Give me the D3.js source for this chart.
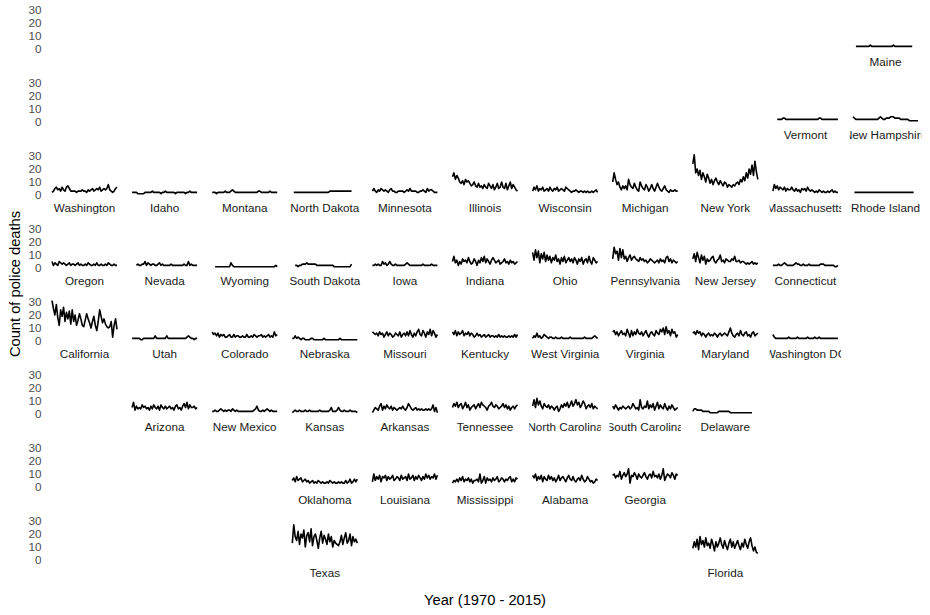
<!DOCTYPE html>
<html>
<head>
<meta charset="utf-8">
<script src="https://cdn.jsdelivr.net/npm/d3@7"></script>
<style>
  body { margin: 0; background: #fff; }
  text { font-family: "Liberation Sans", Arial, Helvetica, sans-serif; }
</style>
</head>
<body>
<svg id="chart"></svg>
<script>
// police deaths per year by state, 1970 - 2015
const yTicks = [0, 10, 20, 30]

const maine = [2,2,2,2,2,2,2,2,2,2, 3,2,2,2,2,2,2,2,2,2, 2,2,2,2,2,2,3,2,2,2, 2,2,2,2,2,2,2,2,2,2]
const vermont = [2,2,2,2,3,3,2,2,2,2, 2,2,2,2,2,2,2,2,2,2, 2,2,2,2,2,2,2,2,2,3, 3,2,2,2,2,2,2,2,2,2, 2,2,2]
const newHampshire = [4,3,2,2,2,2,2,2,2,2, 2,2,2,2,2,2,2,2,3,4, 3,2,2,3,3,3,4,4,4,3, 3,3,3,2,2,2,2,2,2,1, 1,1,1,1,1,1]
const washington = [2,3,5,6,4,5,3,6,4,3, 6,7,5,3,3,3,3,2,3,3, 3,4,3,3,2,4,3,4,5,3, 4,5,4,6,3,4,5,4,5,8, 4,3,2,3,5,6]
const idaho = [2,2,2,2,1,1,1,1,1,2, 2,2,2,2,3,2,2,2,2,2, 1,2,2,3,2,2,2,2,2,2, 1,2,2,2,2,2,2,1,2,2, 3,2,2,2,2,2]
const montana = [2,2,2,1,2,2,2,2,2,3, 2,2,2,3,4,3,2,2,2,2, 2,2,2,2,2,2,2,2,2,2, 2,2,3,3,2,2,2,2,2,2, 3,2,2,2,2,2]
const northDakota = [2,2,2,2,2,2,2,2,2,2, 2,2,2,2,2,2,2,2,2,2, 2,2,2,2,2,3,3,3,3,3, 3,3,3,3,3,3,3,3,3,3, 3]
const minnesota = [3,5,3,2,4,3,5,4,3,4, 3,2,4,5,3,3,2,2,3,3, 3,3,2,3,4,3,5,3,3,3, 3,2,2,3,3,4,3,2,5,3, 4,4,3,2,2,2]
const illinois = [14,17,12,15,13,10,9,11,8,12, 10,11,9,7,8,10,7,6,9,6, 7,5,8,6,5,9,7,5,8,4, 6,9,5,6,10,6,5,9,4,7, 10,5,8,6,4,3]
const wisconsin = [3,6,4,7,3,5,4,6,3,4, 5,3,6,4,3,5,4,6,3,4, 5,4,3,6,5,4,3,2,3,3, 4,3,2,3,3,2,3,2,3,2, 2,3,2,3,4,2]
const michigan = [10,17,12,8,10,6,4,7,5,7, 4,12,8,6,5,9,6,4,3,10, 7,5,4,8,6,3,5,8,5,3, 6,9,6,4,3,5,7,4,3,2, 4,3,3,4,3,3]
const newYork = [24,31,17,20,15,19,12,17,14,10, 16,13,9,12,8,11,13,10,8,11, 9,7,10,9,6,8,7,6,8,7, 9,10,8,12,10,14,11,17,13,20, 16,23,15,26,18,12]
const massachusetts = [3,8,5,7,4,6,5,4,6,3, 5,4,4,6,4,3,5,3,4,2, 5,4,5,3,6,4,3,4,3,2, 3,2,4,3,2,3,2,2,3,2, 3,4,2,3,2,2]
const rhodeIsland = [2,2,2,2,2,2,2,2,2,2, 2,2,2,2,2,2,2,2,2,2, 2,2,2,2,2,2,2,2,2,2, 2,2,2,2,2,2,2,2,2,2, 2,2]
const oregon = [5,2,4,3,2,5,4,3,4,3, 2,3,4,2,3,3,2,3,4,2, 3,2,2,3,2,4,3,2,2,3, 2,4,2,2,3,2,2,3,2,4, 3,2,2,3,2,2]
const nevada = [2,3,2,2,3,3,5,2,4,3, 2,3,3,2,2,3,4,2,3,2, 2,2,2,2,3,2,2,2,2,2, 2,2,2,3,2,2,5,2,3,2, 2,2,2]
const wyoming = [1,1,1,1,1,1,1,1,1,1, 1,4,2,1,1,1,1,1,1,1, 1,1,1,1,1,1,1,1,1,1, 1,1,1,1,1,1,1,1,1,1, 1,1,2,1]
const southDakota = [2,2,1,2,2,3,3,3,4,3, 3,3,3,3,3,2,2,2,2,2, 2,2,2,2,2,2,2,1,1,1, 1,1,1,1,1,1,1,1,1,3]
const iowa = [2,2,3,2,3,2,2,5,3,4, 2,3,5,3,2,2,3,2,2,2, 2,2,2,3,4,3,2,2,2,2, 2,2,2,2,2,3,2,2,2,2, 2,3,2,2,2,2]
const indiana = [5,9,4,6,2,5,3,7,5,6, 4,8,5,3,4,7,5,2,6,4, 8,5,9,4,7,5,3,6,8,6, 4,5,6,3,4,5,7,4,5,3, 6,4,5,3,4,5]
const ohio = [12,6,14,8,13,4,11,7,12,5, 10,6,9,4,8,6,10,5,7,3, 8,5,9,4,6,8,5,7,4,8, 6,3,7,5,8,3,6,7,4,9, 5,3,8,6,4,5]
const pennsylvania = [7,16,11,13,6,15,8,14,7,9, 5,8,10,6,8,9,7,6,5,8, 6,7,5,6,4,5,7,6,5,4, 5,6,4,7,5,6,4,8,9,5, 7,4,6,5,4,5]
const newJersey = [7,11,5,12,8,4,10,6,9,3, 7,5,6,8,9,5,4,6,7,10, 5,6,4,7,6,5,5,7,6,9, 5,5,6,4,5,5,4,3,4,3, 4,5,3,4,3,4]
const connecticut = [2,2,2,2,3,2,2,3,4,3, 2,2,2,2,2,3,4,3,3,2, 2,3,2,2,2,3,2,2,2,2, 2,2,2,3,3,3,2,2,2,2, 2,2,2,1,1,2]
const california = [31,25,20,28,18,12,24,19,26,15, 22,17,23,13,24,15,20,12,16,21, 17,12,11,16,21,17,14,10,15,19, 12,8,15,24,19,14,17,13,11,10, 11,15,3,12,17,9]
const utah = [2,2,2,2,2,2,1,1,2,2, 2,2,2,2,2,2,4,2,2,2, 2,2,2,2,4,2,2,2,2,2, 2,2,2,2,2,2,2,2,3,4, 3,2,2,1,2,2]
const colorado = [7,5,6,4,6,3,5,4,5,3, 3,4,5,3,3,5,3,4,4,3, 3,4,3,3,5,3,3,4,3,5, 4,3,4,4,5,3,4,3,4,5, 3,4,3,7,4,5]
const nebraska = [2,2,4,2,3,2,1,2,2,1, 1,1,1,2,2,1,1,1,1,1, 1,1,2,1,1,1,1,1,1,1, 1,1,1,2,1,1,1,1,1,1, 1,1,1,1,1,1]
const missouri = [7,6,5,6,4,7,5,6,3,5, 7,4,6,5,3,4,6,5,4,7, 3,5,6,4,7,4,8,5,3,6, 4,7,9,5,4,8,6,3,7,5, 9,4,8,6,3,5]
const kentucky = [7,5,8,4,7,5,6,8,4,6, 5,7,4,6,5,3,4,6,4,5, 3,4,5,3,4,5,3,4,4,3, 4,3,5,3,4,3,4,3,3,4, 3,4,3,5,3,5]
const westVirginia = [2,4,3,6,3,4,2,3,5,4, 3,2,3,3,2,2,3,2,2,2, 3,2,2,2,2,2,3,2,2,2, 2,2,2,2,2,2,3,2,2,2, 2,2,3,4,3,2]
const virginia = [7,8,5,7,4,6,8,5,6,4, 9,6,3,8,4,7,5,9,6,5, 7,4,6,8,5,3,6,7,5,4, 8,6,5,9,7,10,5,11,6,8, 4,9,6,7,3,5]
const maryland = [6,7,5,8,6,7,4,6,5,3, 5,6,4,5,4,6,5,3,5,6, 4,5,6,5,4,7,10,6,4,3, 5,6,4,8,5,4,6,7,4,5, 3,6,7,4,5,6]
const washingtonDC = [5,3,2,2,2,2,2,2,2,2, 2,3,2,2,2,2,2,3,2,2, 2,2,2,2,3,2,2,2,2,3, 2,2,3,2,2,2,2,2,2,2, 2,2,2,2,2,2]
const arizona = [5,9,3,6,4,5,4,7,5,6, 4,5,3,6,4,7,5,4,6,3, 7,5,4,6,4,5,6,4,5,3, 6,7,4,5,3,6,8,5,9,4, 7,5,5,6,4,5]
const newMexico = [2,2,3,2,2,3,4,3,2,3, 2,3,3,2,4,3,2,3,2,2, 2,2,2,2,2,2,2,2,2,3, 4,6,3,2,2,3,2,3,4,3, 2,3,2,2,2,2]
const kansas = [1,2,3,2,2,3,2,2,2,3, 2,2,3,2,2,2,2,2,2,3, 2,2,2,2,2,2,3,5,2,2, 2,3,5,3,2,2,3,2,2,2, 3,2,2,2,2,1]
const arkansas = [1,3,5,4,3,6,8,3,6,4, 7,5,4,6,3,5,4,3,4,5, 4,6,4,3,5,8,6,4,3,4, 5,3,4,3,4,3,3,4,3,4, 3,4,7,2,5,1]
const tennessee = [5,8,6,9,5,7,8,4,6,9, 5,7,3,5,6,7,4,6,8,5, 9,7,6,5,3,6,7,9,6,5, 7,6,4,5,6,8,5,7,4,6, 3,5,6,4,6,7]
const northCarolina = [6,11,5,12,7,10,6,4,8,6, 5,7,4,6,5,3,5,6,2,4, 7,5,8,6,9,5,7,10,6,8, 11,7,9,5,7,10,8,4,6,7, 5,8,4,6,5,4]
const southCarolina = [6,4,7,5,3,5,4,6,5,4, 5,6,4,5,8,6,4,5,3,11, 5,4,6,5,10,4,7,5,8,3, 6,9,4,7,5,4,8,5,3,6, 4,7,5,3,4,5]
const delaware = [2,4,4,3,3,3,3,2,2,2, 2,2,1,1,1,1,1,1,2,2, 2,2,2,2,2,2,1,1,1,1, 1,1,1,1,1,1,1,1,1,1, 1,1]
const oklahoma = [5,7,4,8,5,6,7,4,5,6, 4,5,3,4,5,3,4,3,5,4, 3,4,3,3,4,3,5,4,3,4, 3,3,4,3,4,3,3,5,3,4, 6,3,4,6,4,6]
const louisiana = [4,10,5,8,6,9,4,8,7,9, 5,8,6,7,9,5,6,8,7,5, 9,6,7,8,5,10,6,7,9,5, 8,6,9,7,5,8,6,10,7,9, 6,8,7,10,6,9]
const mississippi = [3,5,4,6,4,7,5,8,4,6, 5,7,4,6,3,5,5,6,4,10, 3,5,8,3,7,5,6,4,7,5, 6,8,4,5,7,6,4,6,5,7, 8,4,6,4,7,6]
const alabama = [9,7,10,5,8,6,9,4,8,6, 5,9,6,8,5,7,4,6,9,5, 7,8,6,4,7,9,6,5,8,5, 4,6,7,5,9,6,4,5,8,6, 4,5,3,4,6,5]
const georgia = [9,10,7,9,8,12,6,9,11,8, 10,14,3,9,8,11,9,6,10,8, 7,9,11,8,6,9,10,7,12,8, 9,7,10,6,9,14,5,8,10,9, 7,11,9,6,10,9]
const texas = [13,27,18,15,22,12,20,17,23,10, 19,21,14,24,11,18,20,15,9,17, 22,13,19,16,12,20,14,18,10,15, 13,12,11,14,19,12,17,21,13,15, 20,11,18,14,16,13]
const florida = [9,14,10,16,8,18,12,15,10,17, 11,13,9,16,12,7,14,10,13,17, 12,9,15,11,8,13,16,10,14,9, 12,15,11,8,13,10,16,12,9,14, 17,11,7,10,6,5]

const states = ['Maine','Vermont','New Hampshire',
  'Washington','Idaho','Montana','North Dakota','Minnesota','Illinois','Wisconsin','Michigan','New York','Massachusetts','Rhode Island',
  'Oregon','Nevada','Wyoming','South Dakota','Iowa','Indiana','Ohio','Pennsylvania','New Jersey','Connecticut',
  'California','Utah','Colorado','Nebraska','Missouri','Kentucky','West Virginia','Virginia','Maryland','Washington DC',
  'Arizona','New Mexico','Kansas','Arkansas','Tennessee','North Carolina','South Carolina','Delaware',
  'Oklahoma','Louisiana','Mississippi','Alabama','Georgia',
  'Texas','Florida']
const gridRow = [1,2,2, 3,3,3,3,3,3,3,3,3,3,3, 4,4,4,4,4,4,4,4,4,4, 5,5,5,5,5,5,5,5,5,5, 6,6,6,6,6,6,6,6, 7,7,7,7,7, 8,8]
const gridCol = [11,10,11, 1,2,3,4,5,6,7,8,9,10,11, 1,2,3,4,5,6,7,8,9,10, 1,2,3,4,5,6,7,8,9,10, 2,3,4,5,6,7,8,9, 4,5,6,7,8, 4,9]
const startYear = [1972,1973,1970,
  1970,1970,1970,1971,1970,1970,1970,1970,1970,1970,1971,
  1970,1973,1972,1972,1970,1970,1970,1970,1970,1970,
  1970,1970,1970,1970,1970,1970,1970,1970,1970,1970,
  1970,1970,1970,1970,1970,1970,1970,1970,
  1970,1970,1970,1970,1970,
  1970,1970]
const series = [maine, vermont, newHampshire,
  washington, idaho, montana, northDakota, minnesota, illinois, wisconsin, michigan, newYork, massachusetts, rhodeIsland,
  oregon, nevada, wyoming, southDakota, iowa, indiana, ohio, pennsylvania, newJersey, connecticut,
  california, utah, colorado, nebraska, missouri, kentucky, westVirginia, virginia, maryland, washingtonDC,
  arizona, newMexico, kansas, arkansas, tennessee, northCarolina, southCarolina, delaware,
  oklahoma, louisiana, mississippi, alabama, georgia,
  texas, florida]

let width = 930, height = 615
let colStep = 80.1, rowStep = 73
let dataLeft = 52, dataWidth = 65, panelPad = 3.25
let zeroTop = 49, pxPerDeath = 1.3

let svg = d3.select('#chart')
            .attr('width', width)
            .attr('height', height)

function yScaleFor(r) {
  let zero = zeroTop + rowStep * r
  return d3.scaleLinear().domain([0, 30]).range([zero, zero - 30 * pxPerDeath])
}
function xScaleFor(c) {
  let left = dataLeft + colStep * c
  return d3.scaleLinear().domain([1970, 2015]).range([left, left + dataWidth])
}

// y axis on the left of every row
for (let r = 0; r < 8; r++) {
  let g = svg.append('g')
             .attr('transform', 'translate(44,0)')
             .call(d3.axisLeft(yScaleFor(r)).tickValues(yTicks).tickSize(0).tickPadding(2.5))
  g.select('.domain').remove()
  g.selectAll('text')
   .attr('font-family', '"Liberation Sans", Arial, sans-serif')
   .attr('font-size', '11.7px')
   .attr('fill', '#4d4d4d')
}

// clip strips to panel width
let defs = svg.append('defs')
for (let c = 0; c < 11; c++) {
  defs.append('clipPath').attr('id', 'strip' + c)
      .append('rect')
      .attr('x', dataLeft + colStep * c - panelPad)
      .attr('y', 0)
      .attr('width', dataWidth + 2 * panelPad)
      .attr('height', height)
}

let line = d3.line()

states.forEach(function(name, i) {
  let c = gridCol[i] - 1, r = gridRow[i] - 1
  let x = xScaleFor(c), y = yScaleFor(r)
  let pts = series[i].map(function(v, k) { return { year: startYear[i] + k, value: v } })

  let panel = svg.append('g').attr('class', 'panel')
  panel.append('path')
       .datum(pts)
       .attr('d', line.x(d => x(d.year)).y(d => y(d.value)))
       .attr('fill', 'none')
       .attr('stroke', '#000')
       .attr('stroke-width', 1.6)
       .attr('stroke-linejoin', 'round')

  panel.append('text')
       .attr('x', x(1992.5))
       .attr('y', y(0) + 13)
       .attr('dy', '0.35em')
       .attr('text-anchor', 'middle')
       .attr('clip-path', 'url(#strip' + c + ')')
       .attr('font-size', '11.7px')
       .attr('fill', '#1a1a1a')
       .text(name)
})

// axis titles
svg.append('text')
   .attr('x', 485)
   .attr('y', 600)
   .attr('dy', '0.35em')
   .attr('text-anchor', 'middle')
   .attr('font-size', '14.7px')
   .attr('fill', '#000')
   .text('Year (1970 - 2015)')

svg.append('text')
   .attr('transform', 'translate(15,284) rotate(-90)')
   .attr('dy', '0.35em')
   .attr('text-anchor', 'middle')
   .attr('font-size', '14.7px')
   .attr('fill', '#000')
   .text('Count of police deaths')
</script>
</body>
</html>
